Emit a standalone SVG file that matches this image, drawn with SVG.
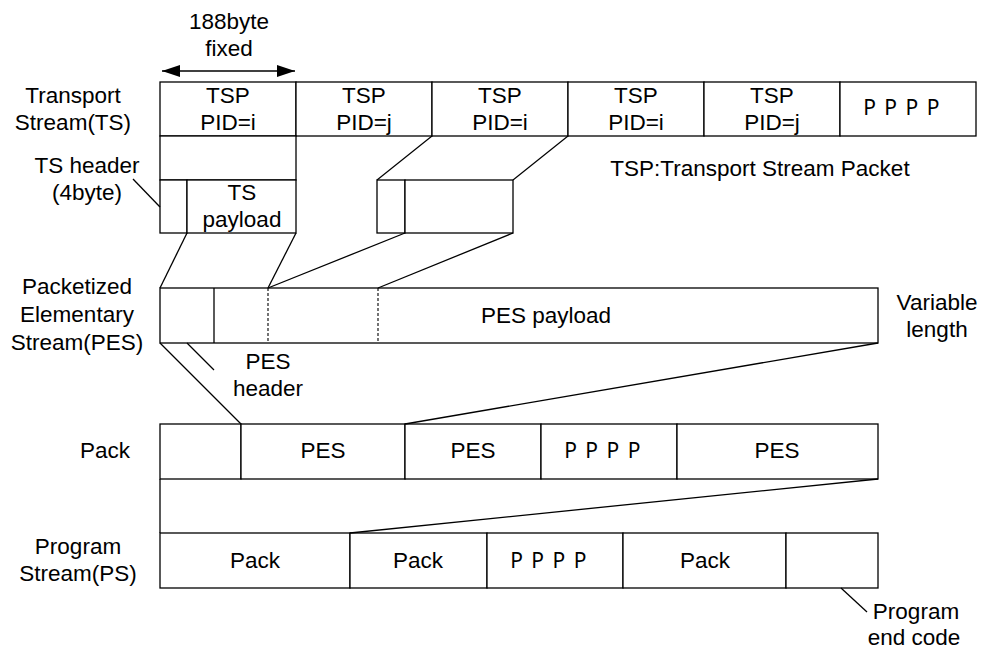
<svg xmlns="http://www.w3.org/2000/svg" width="981" height="649" viewBox="0 0 981 649">
<defs>
<style>
.c{fill:#fff;stroke:#000;stroke-width:1.3}
.l{fill:none;stroke:#000;stroke-width:1.3}
.d{fill:none;stroke:#000;stroke-width:1.1;stroke-dasharray:3 2}
text{font-family:"Liberation Sans",Arial,sans-serif;font-size:22.5px;fill:#000;text-anchor:middle}
.p{font-family:"Noto Sans","DejaVu Sans",sans-serif;font-size:21px;letter-spacing:1.5px}
</style>
<marker id="ah" viewBox="0 0 18 12" refX="18" refY="6" markerWidth="18" markerHeight="12" markerUnits="userSpaceOnUse" orient="auto-start-reverse">
<path d="M0,0 L18,6 L0,12 Z" fill="#000"/>
</marker>
</defs>
<rect width="981" height="649" fill="#fff"/>

<g id="size-arrow">
<line class="l" x1="162" y1="71" x2="295" y2="71" marker-start="url(#ah)" marker-end="url(#ah)"/>
<text x="229" y="29">188byte</text>
<text x="229" y="56">fixed</text>
</g>

<g id="labels">
<text x="73" y="103">Transport</text>
<text x="73" y="130">Stream(TS)</text>
<text x="87" y="173">TS header</text>
<text x="87" y="200">(4byte)</text>
<text x="760" y="176">TSP:Transport Stream Packet</text>
<text x="77" y="294">Packetized</text>
<text x="77" y="322">Elementary</text>
<text x="77" y="350">Stream(PES)</text>
<text x="268" y="369">PES</text>
<text x="268" y="396">header</text>
<text x="937" y="310">Variable</text>
<text x="937" y="337">length</text>
<text x="105" y="458">Pack</text>
<text x="78" y="554">Program</text>
<text x="78" y="581">Stream(PS)</text>
<text x="916" y="619">Program</text>
<text x="914" y="645">end code</text>
</g>

<g id="ts">
<g id="ts1"><rect class="c" x="160" y="82" width="136" height="54"/><text x="228" y="103">TSP</text><text x="228" y="130">PID=i</text></g>
<g id="ts2"><rect class="c" x="296" y="82" width="136" height="54"/><text x="364" y="103">TSP</text><text x="364" y="130">PID=j</text></g>
<g id="ts3"><rect class="c" x="432" y="82" width="136" height="54"/><text x="500" y="103">TSP</text><text x="500" y="130">PID=i</text></g>
<g id="ts4"><rect class="c" x="568" y="82" width="136" height="54"/><text x="636" y="103">TSP</text><text x="636" y="130">PID=i</text></g>
<g id="ts5"><rect class="c" x="704" y="82" width="136" height="54"/><text x="772" y="103">TSP</text><text x="772" y="130">PID=j</text></g>
<g id="ts6"><rect class="c" x="840" y="82" width="136" height="54"/><text class="p" x="902" y="115">P P P P</text></g>
</g>

<g id="ts1-detail">
<rect class="c" x="160" y="136" width="136" height="44"/>
<rect class="c" x="160" y="180" width="27" height="53"/>
<rect class="c" x="187" y="180" width="109" height="53"/>
<text x="242" y="200">TS</text>
<text x="242" y="227">payload</text>
</g>

<g id="ts3-detail">
<rect class="c" x="377" y="180" width="28" height="53"/>
<rect class="c" x="405" y="180" width="108" height="53"/>
</g>

<g id="pes">
<rect class="c" x="160" y="288" width="718" height="55"/>
<line class="l" x1="214" y1="288" x2="214" y2="343"/>
<line class="d" x1="268" y1="288" x2="268" y2="343"/>
<line class="d" x1="378" y1="288" x2="378" y2="343"/>
<text x="546" y="323">PES payload</text>
</g>

<g id="pack">
<g id="pk0"><rect class="c" x="160" y="424" width="81" height="55"/></g>
<g id="pk1"><rect class="c" x="241" y="424" width="164" height="55"/><text x="323" y="458">PES</text></g>
<g id="pk2"><rect class="c" x="405" y="424" width="136" height="55"/><text x="473" y="458">PES</text></g>
<g id="pk3"><rect class="c" x="541" y="424" width="136" height="55"/><text class="p" x="603" y="458">P P P P</text></g>
<g id="pk4"><rect class="c" x="677" y="424" width="201" height="55"/><text x="777" y="458">PES</text></g>
</g>

<g id="ps">
<g id="ps1"><rect class="c" x="160" y="533" width="190" height="55"/><text x="255" y="568">Pack</text></g>
<g id="ps2"><rect class="c" x="350" y="533" width="137" height="55"/><text x="418" y="568">Pack</text></g>
<g id="ps3"><rect class="c" x="487" y="533" width="136" height="55"/><text class="p" x="549" y="568">P P P P</text></g>
<g id="ps4"><rect class="c" x="623" y="533" width="163" height="55"/><text x="705" y="568">Pack</text></g>
<g id="ps5"><rect class="c" x="786" y="533" width="92" height="55"/></g>
</g>

<g id="connectors">
<line class="l" x1="432" y1="136" x2="377" y2="180"/>
<line class="l" x1="568" y1="136" x2="513" y2="180"/>
<line class="l" x1="187" y1="233" x2="160" y2="288"/>
<line class="l" x1="296" y1="233" x2="268" y2="288"/>
<line class="l" x1="405" y1="233" x2="268" y2="288"/>
<line class="l" x1="513" y1="233" x2="378" y2="288"/>
<line class="l" x1="160" y1="343" x2="241" y2="424"/>
<line class="l" x1="878" y1="343" x2="405" y2="424"/>
<line class="l" x1="160" y1="479" x2="160" y2="533"/>
<line class="l" x1="878" y1="479" x2="350" y2="533"/>
<line class="l" x1="133" y1="179" x2="160" y2="207"/>
<line class="l" x1="187" y1="343" x2="214" y2="370"/>
<line class="l" x1="841" y1="588" x2="867" y2="612"/>
</g>
</svg>
